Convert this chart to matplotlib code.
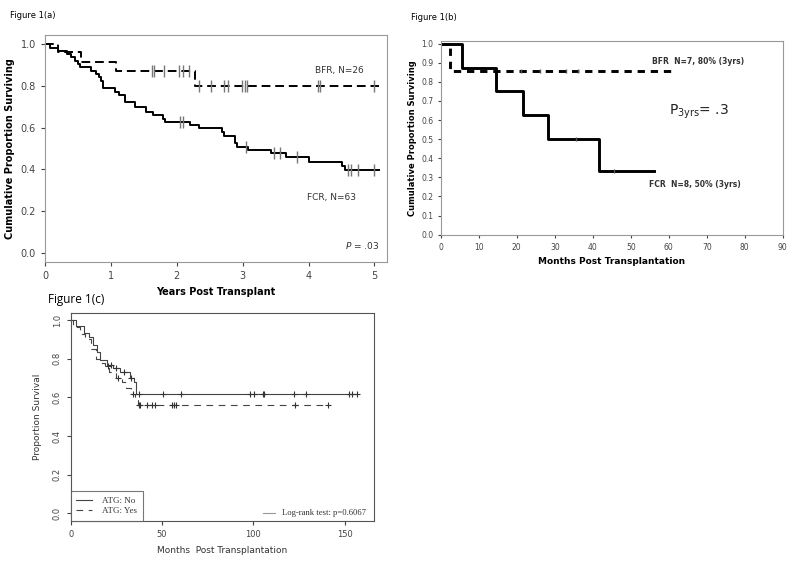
import numpy as np
import matplotlib
matplotlib.use('Agg')
import matplotlib.pyplot as plt

# ---- Figure 1(a): years post transplant ----
fcr_t = [0, 0.07, 0.2, 0.33, 0.4, 0.45, 0.5, 0.53, 0.7, 0.78, 0.82, 0.85, 0.88, 1.06, 1.12,
         1.21, 1.36, 1.53, 1.64, 1.79, 1.82, 2.2, 2.33, 2.68, 2.72, 2.88, 2.92, 3.08, 3.43,
         3.65, 4.0, 4.5, 4.55]
fcr_s = [1.0, 0.984, 0.968, 0.952, 0.937, 0.921, 0.905, 0.889, 0.873, 0.857, 0.841, 0.825,
         0.79, 0.772, 0.757, 0.725, 0.697, 0.675, 0.66, 0.643, 0.628, 0.612, 0.597, 0.578,
         0.56, 0.527, 0.508, 0.492, 0.476, 0.457, 0.436, 0.417, 0.396]
fcr_end = 5.07
fcr_cens = [2.05, 2.1, 3.05, 3.48, 3.57, 3.83, 4.6, 4.65, 4.75, 5.0]

bfr_t = [0, 0.2, 0.55, 1.08, 2.28]
bfr_s = [1.0, 0.962, 0.915, 0.872, 0.80]
bfr_end = 5.07
bfr_cens = [1.62, 1.66, 1.8, 2.03, 2.1, 2.19, 2.34, 2.52, 2.72, 2.78, 2.99, 3.04, 3.07,
            4.15, 4.18, 5.0]

# ---- Figure 1(b): months post transplantation ----
b_fcr_t = [0, 5.7, 14.5, 21.6, 28.3, 41.6]
b_fcr_s = [1.0, 0.875, 0.75, 0.625, 0.5, 0.333]
b_fcr_end = 56.2
b_fcr_cens = [35.5, 45.5]
b_bfr_t = [0, 2.3]
b_bfr_s = [1.0, 0.857]
b_bfr_end = 60.8
b_bfr_cens = [21.0, 26.0, 33.0, 36.0]

# ---- Figure 1(c): ATG ----
no_t = [0, 3, 7, 10, 12.4, 14.2, 16, 19.7, 23.4, 27, 32.5, 34.9, 36]
no_s = [1.0, 0.97, 0.935, 0.91, 0.87, 0.835, 0.795, 0.77, 0.75, 0.73, 0.70, 0.68, 0.617]
no_end = 157
no_cens = [22, 25, 29, 33, 37.5, 50.7, 60.4, 98.2, 100.4, 105.2, 105.6, 122.3, 128.6,
           152.4, 153.8, 156.6]
yes_t = [0, 1, 5, 8, 11, 14, 16, 19, 21, 25, 28, 30, 33, 35, 36.8]
yes_s = [1.0, 0.965, 0.93, 0.90, 0.85, 0.80, 0.78, 0.76, 0.73, 0.70, 0.68, 0.65, 0.62, 0.60, 0.56]
yes_end = 141
yes_cens = [20.5, 26, 34, 37.5, 38, 42, 44.3, 46.2, 55.3, 56.6, 57.7, 122.8, 140.7]


def km(ax, t, s, end, **kw):
    tt = list(t) + [end]
    ss = list(s) + [s[-1]]
    ax.step(tt, ss, where='post', **kw)


def surv_at(t, s, x):
    i = np.searchsorted(t, x, side='right') - 1
    return np.array(s)[i]


fig = plt.figure(figsize=(8, 5.61), dpi=100)

# ------------------ (a)
ax = fig.add_axes([0.05625, 0.533, 0.4275, 0.4046])
km(ax, fcr_t, fcr_s, fcr_end, color='black', lw=1.4)
km(ax, bfr_t, bfr_s, bfr_end, color='black', lw=1.4, ls=(0, (4.5, 2.5)))
ax.plot(fcr_cens, surv_at(fcr_t, fcr_s, fcr_cens), '|', color='#777777', ms=9, mew=1)
ax.plot(bfr_cens, surv_at(bfr_t, bfr_s, bfr_cens), '|', color='#777777', ms=9, mew=1)
ax.set_xlim(0, 5.19)
ax.set_ylim(-0.045, 1.045)
ax.set_xticks(range(6))
ax.set_yticks([0.0, 0.2, 0.4, 0.6, 0.8, 1.0])
ax.set_yticklabels(['0.0', '0.2', '0.4', '0.6', '0.8', '1.0'])
for sp in ax.spines.values():
    sp.set_color('#999999')
ax.tick_params(labelsize=7, colors='#444444', length=3)
ax.set_xlabel('Years Post Transplant', fontsize=7, fontweight='bold', labelpad=4)
ax.set_ylabel('Cumulative Proportion Surviving', fontsize=7, fontweight='bold', labelpad=4)
ax.text(4.09, 0.873, 'BFR, N=26', fontsize=6.5, va='center', color='#333333')
ax.text(3.97, 0.263, 'FCR, N=63', fontsize=6.5, va='center', color='#333333')
ax.text(5.07, 0.035, '$P$ = .03', fontsize=6.5, va='center', ha='right', color='#333333')
fig.text(0.0125, 0.972, 'Figure 1(a)', fontsize=6, va='center')

# ------------------ (b)
ax = fig.add_axes([0.551, 0.5811, 0.4275, 0.3464])
km(ax, b_fcr_t, b_fcr_s, b_fcr_end, color='black', lw=2.1)
km(ax, b_bfr_t, b_bfr_s, b_bfr_end, color='black', lw=2.1, ls=(0, (2.5, 2)))
ax.plot(b_fcr_cens, surv_at(b_fcr_t, b_fcr_s, b_fcr_cens), '|', color='#555555', ms=3)
ax.plot(b_bfr_cens, surv_at(b_bfr_t, b_bfr_s, b_bfr_cens), '|', color='#555555', ms=3)
ax.set_xlim(0, 90)
ax.set_ylim(-0.002, 1.016)
ax.set_xticks(range(0, 91, 10))
ax.set_yticks(np.arange(0, 1.01, 0.1))
ax.set_yticklabels(['%.1f' % v for v in np.arange(0, 1.01, 0.1)])
for sp in ax.spines.values():
    sp.set_color('#999999')
ax.tick_params(labelsize=5.5, colors='#444444', length=2)
ax.set_xlabel('Months Post Transplantation', fontsize=6.5, fontweight='bold', labelpad=4)
ax.set_ylabel('Cumulative Proportion Surviving', fontsize=6, fontweight='bold', labelpad=3)
ax.text(55.7, 0.906, 'BFR  N=7, 80% (3yrs)', fontsize=5.5, fontweight='bold',
        va='center', color='#333333')
ax.text(54.9, 0.264, 'FCR  N=8, 50% (3yrs)', fontsize=5.5, fontweight='bold',
        va='center', color='#333333')
ax.text(60, 0.644, r'P$_{\mathregular{3yrs}}$= .3', fontsize=10, va='center', color='#222222')
fig.text(0.514, 0.968, 'Figure 1(b)', fontsize=6, va='center')

# ------------------ (c)
ax = fig.add_axes([0.0884, 0.0718, 0.379, 0.3708])
km(ax, no_t, no_s, no_end, color='#444444', lw=0.8)
km(ax, yes_t, yes_s, yes_end, color='#444444', lw=0.8, ls=(0, (6, 5)))
ax.plot(no_cens, surv_at(no_t, no_s, no_cens), '+', color='#333333', ms=5, mew=0.8)
ax.plot(yes_cens, surv_at(yes_t, yes_s, yes_cens), '+', color='#333333', ms=5, mew=0.8)
ax.set_xlim(0, 166)
ax.set_ylim(-0.038, 1.038)
ax.set_xticks([0, 50, 100, 150])
ax.set_yticks([0.0, 0.2, 0.4, 0.6, 0.8, 1.0])
ax.set_yticklabels(['0.0', '0.2', '0.4', '0.6', '0.8', '1.0'], rotation=90, va='center')
for sp in ax.spines.values():
    sp.set_color('#555555')
    sp.set_linewidth(0.8)
ax.tick_params(labelsize=6, colors='#444444', length=3)
ax.set_xlabel('Months  Post Transplantation', fontsize=6.5, color='#333333', labelpad=5)
ax.set_ylabel('Proportion Survival', fontsize=6.5, color='#333333', labelpad=8)
leg = ax.legend(['ATG: No', 'ATG: Yes'], loc='lower left',
                prop={'family': 'Liberation Serif', 'size': 6.5}, frameon=True,
                fancybox=False, borderaxespad=0, handlelength=1.8, borderpad=0.6,
                labelspacing=0.25, handletextpad=1.1, labelcolor='#333333')
leg.get_frame().set_edgecolor('#555555')
leg.get_frame().set_linewidth(0.8)
ax.plot([105.5, 112], [0.0, 0.0], color='#999999', lw=0.8)
ax.text(115.5, 0.0, 'Log-rank test: p=0.6067', fontsize=6.2, family='Liberation Serif',
        va='center', color='#333333')
fig.text(0.06, 0.466, 'Figure 1(c)', fontsize=8.5, family='Open Sans', va='center')

fig.savefig('out.png', dpi=100)
